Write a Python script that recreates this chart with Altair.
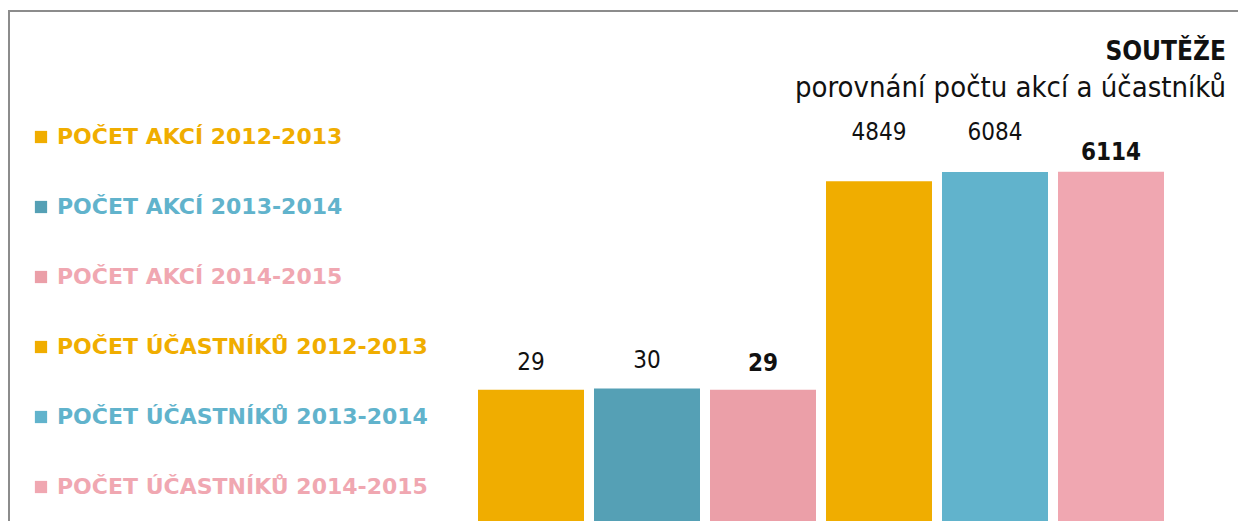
import json
import altair as alt
import pandas as pd

# ---- data ----
series = [
    "POČET AKCÍ 2012-2013",
    "POČET AKCÍ 2013-2014",
    "POČET AKCÍ 2014-2015",
    "POČET ÚČASTNÍKŮ 2012-2013",
    "POČET ÚČASTNÍKŮ 2013-2014",
    "POČET ÚČASTNÍKŮ 2014-2015",
]
values = [29, 30, 29, 4849, 6084, 6114]
bar_colors = ["#f0ad00", "#55a0b5", "#eb9fa8", "#f0ad00", "#61b3cc", "#f0a7b1"]
text_colors = ["#f0ad00", "#61b3cc", "#f0a7b1", "#f0ad00", "#61b3cc", "#f0a7b1"]
title_text = ["SOUTĚŽE"]
subtitle_text = ["porovnání počtu akcí a účastníků"]

df = pd.DataFrame({"series": series, "value": values, "idx": list(range(len(series)))})

W, H = 1230, 513
FONT = "DejaVu Sans Condensed"
Y_MIN, Y_MAX = 1.158, 341300

x_enc = alt.X(
    "series:N",
    sort=series,
    axis=None,
    scale=alt.Scale(range=[470, 1156], paddingInner=0.0862, paddingOuter=0),
)
y_enc = alt.Y(
    "value:Q",
    axis=None,
    scale=alt.Scale(type="log", domain=[Y_MIN, Y_MAX]),
)

label_color_expr = (
    f"{json.dumps(text_colors)}[indexof({json.dumps(series, ensure_ascii=False)}, datum.value)]"
)

legend = alt.Legend(
    title=None,
    orient="none",
    direction="vertical",
    legendX=22,
    legendY=118,
    symbolType="square",
    symbolSize=150,
    symbolStrokeWidth=0,
    symbolOpacity=1,
    labelFont="DejaVu Sans",
    labelFontWeight="bold",
    labelFontSize=22,
    labelOffset=5,
    labelLimit=600,
    rowPadding=48,
    padding=0,
    labelColor=alt.ExprRef(expr=label_color_expr),
)

base = alt.Chart(df)

bars = base.mark_bar().encode(
    x=x_enc,
    y=y_enc,
    y2=alt.datum(Y_MIN),
    color=alt.Color(
        "series:N",
        sort=series,
        scale=alt.Scale(domain=series, range=bar_colors),
        legend=legend,
    ),
)


def label_layer(idxs, dy, weight):
    return (
        base.transform_filter(alt.FieldOneOfPredicate(field="idx", oneOf=idxs))
        .mark_text(dy=dy, baseline="middle", font=FONT, fontSize=24, fontWeight=weight, color="#111111")
        .encode(x=x_enc, y=y_enc, text=alt.Text("value:Q", format="d"))
    )


labels = [
    label_layer([0, 1], -27, "normal"),
    label_layer([2], -26, "bold"),
    label_layer([3], -48, "normal"),
    label_layer([4], -39, "normal"),
    label_layer([5], -19, "bold"),
]

title = (
    alt.Chart(pd.DataFrame({"t": title_text}))
    .mark_text(align="right", baseline="alphabetic", font=FONT, fontSize=26, fontWeight="bold", color="#111111")
    .encode(x=alt.value(1218), y=alt.value(52), text="t:N")
)
subtitle = (
    alt.Chart(pd.DataFrame({"t": subtitle_text}))
    .mark_text(align="right", baseline="alphabetic", font=FONT, fontSize=29, color="#111111")
    .encode(x=alt.value(1218), y=alt.value(89), text="t:N")
)

frame_df = pd.DataFrame({"k": [0]})
frame_top = (
    alt.Chart(frame_df)
    .mark_rule(color="#8c8c8c", strokeWidth=2)
    .encode(x=alt.value(0), x2=alt.value(W), y=alt.value(3))
)
frame_left = (
    alt.Chart(frame_df)
    .mark_rule(color="#8c8c8c", strokeWidth=2)
    .encode(x=alt.value(1), y=alt.value(2), y2=alt.value(H))
)

chart = (
    alt.layer(frame_top, frame_left, bars, *labels, title, subtitle)
    .properties(width=W, height=H, autosize=alt.AutoSizeParams(type="none"), padding=0)
    .configure_view(stroke=None)
)

chart.save("out.html", embed_options={"renderer": "svg", "actions": False})
